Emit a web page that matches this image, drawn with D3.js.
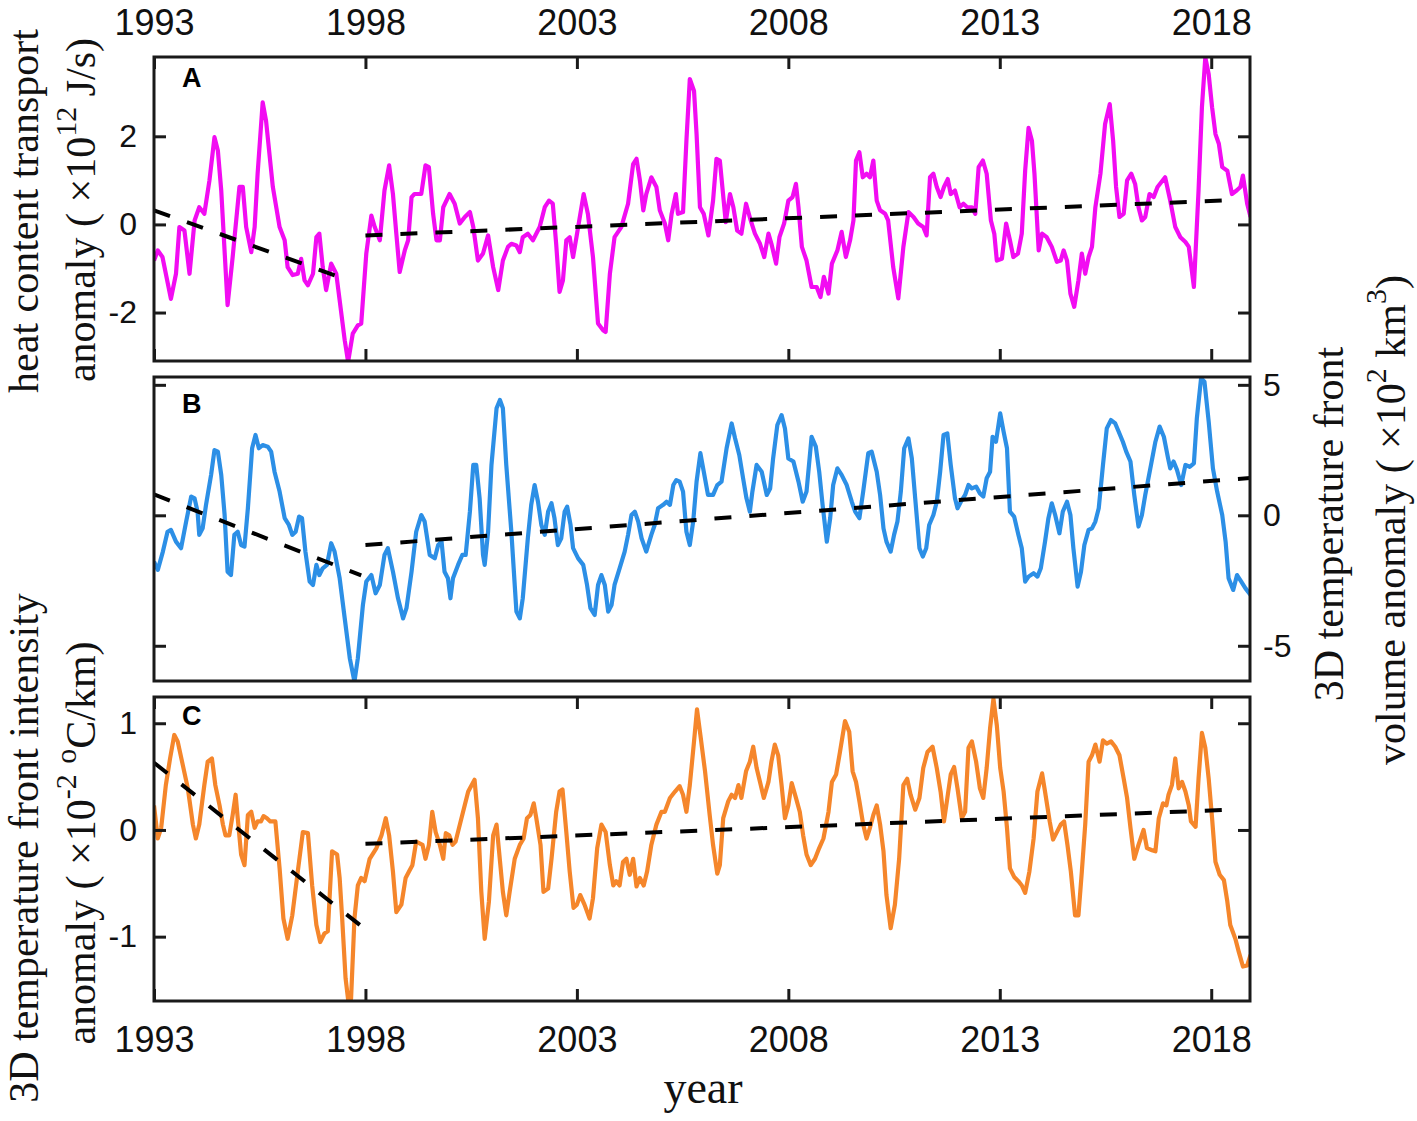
<!DOCTYPE html>
<html>
<head>
<meta charset="utf-8">
<script src="https://cdn.jsdelivr.net/npm/d3@7"></script>
<style>
  body { margin: 0; background: #fff; }
</style>
</head>
<body>
<svg id="chart" width="1417" height="1121"></svg>
<script>
// each pair: [years since Jan 1993, anomaly]
var heatSeries = [[0,-0.82],[0.09,-0.59],[0.20,-0.74],[0.40,-1.69],[0.52,-1.12],[0.60,-0.06],[0.72,-0.14],[0.84,-1.12],[0.96,0.09],[1.07,0.39],[1.19,0.24],[1.31,0.99],[1.43,1.98],[1.51,1.68],[1.59,0.77],[1.74,-1.83],[1.86,-0.74],[2.02,0.85],[2.10,0.85],[2.18,-0.06],[2.30,-0.63],[2.38,-0.06],[2.45,1.15],[2.57,2.77],[2.65,2.35],[2.81,0.85],[2.97,-0.06],[3.09,-0.36],[3.16,-0.97],[3.28,-1.15],[3.40,-1.12],[3.48,-0.78],[3.56,-1.27],[3.64,-1.38],[3.76,-1.12],[3.84,-0.29],[3.91,-0.21],[3.99,-0.97],[4.07,-1.49],[4.19,-0.89],[4.31,-1.12],[4.39,-1.72],[4.51,-2.63],[4.59,-3.12],[4.70,-2.48],[4.82,-2.29],[4.90,-2.25],[5.02,-0.66],[5.14,0.20],[5.22,-0.06],[5.34,-0.36],[5.45,0.77],[5.56,1.34],[5.65,0.69],[5.73,-0.21],[5.81,-1.08],[5.93,-0.59],[6.01,-0.36],[6.09,0.62],[6.16,0.69],[6.32,0.69],[6.42,1.34],[6.50,1.30],[6.60,0.24],[6.68,-0.36],[6.76,-0.36],[6.84,0.39],[6.99,0.69],[7.11,0.47],[7.23,0.02],[7.35,0.17],[7.47,0.28],[7.55,-0.06],[7.66,-0.82],[7.78,-0.66],[7.90,-0.25],[8.02,-0.97],[8.14,-1.49],
  [8.25,-0.82],[8.37,-0.51],[8.45,-0.44],[8.57,-0.48],[8.65,-0.63],[8.72,-0.29],[8.84,-0.21],[8.96,-0.36],[9.12,-0.06],[9.24,0.39],[9.34,0.54],[9.43,0.47],[9.51,-0.44],[9.59,-1.53],[9.67,-1.27],[9.75,-0.36],[9.83,-0.29],[9.91,-0.74],[9.99,-0.29],[10.16,0.69],[10.26,0.24],[10.38,-0.74],[10.50,-2.25],[10.62,-2.40],[10.68,-2.44],[10.78,-1.12],[10.89,-0.29],[11.05,-0.06],[11.21,0.47],[11.33,1.37],[11.41,1.49],[11.49,1.00],[11.57,0.32],[11.64,0.69],[11.76,1.07],[11.88,0.85],[11.96,0.32],[12.08,0.02],[12.16,-0.36],[12.24,0.24],[12.34,0.69],[12.39,0.24],[12.51,0.28],[12.59,1.90],[12.67,3.30],[12.77,3.03],[12.83,2.05],[12.91,0.39],[13.00,0.24],[13.11,-0.25],[13.22,0.54],[13.30,1.49],[13.38,1.45],[13.44,0.85],[13.52,0.05],[13.62,0.69],[13.70,0.39],[13.79,-0.14],[13.89,-0.21],[14.00,0.47],[14.11,0.09],[14.21,-0.21],[14.33,-0.44],[14.43,-0.74],[14.53,-0.21],[14.60,-0.44],[14.71,-0.89],[14.79,-0.29],[14.90,0.02],[15.00,0.54],[15.10,0.62],[15.18,0.92],[15.24,0.39],[15.32,-0.51],[15.43,-0.82],[15.55,-1.42],[15.67,-1.42],[15.76,-1.65],[15.84,-1.19],[15.95,-1.57],[16.03,-0.89],[16.16,-0.59],[16.26,-0.17],[16.36,-0.74],[16.46,-0.36],[16.54,0.09],[16.60,1.45],[16.68,1.64],[16.76,1.07],[16.85,1.15],[16.93,1.07],
  [17.01,1.45],[17.09,0.54],[17.17,0.32],[17.29,0.24],[17.36,0.09],[17.48,-0.97],[17.60,-1.68],[17.72,-0.51],[17.84,0.28],[17.96,0.17],[18.07,0.02],[18.19,-0.06],[18.27,-0.25],[18.35,1.07],[18.43,1.15],[18.51,0.85],[18.60,0.62],[18.68,0.85],[18.77,1.03],[18.84,0.69],[18.94,0.77],[19.05,0.39],[19.14,0.47],[19.23,0.39],[19.34,0.39],[19.42,0.24],[19.50,1.30],[19.60,1.45],[19.69,1.15],[19.79,0.09],[19.87,-0.21],[19.93,-0.82],[20.05,-0.78],[20.15,0.02],[20.24,-0.36],[20.32,-0.74],[20.43,-0.66],[20.52,-0.21],[20.60,1.22],[20.68,2.19],[20.76,1.90],[20.82,1.15],[20.92,-0.59],[21.00,-0.21],[21.11,-0.29],[21.23,-0.51],[21.35,-0.85],[21.44,-0.82],[21.51,-0.59],[21.59,-0.82],[21.67,-1.57],[21.76,-1.87],[21.86,-1.27],[21.94,-0.66],[22.02,-1.12],[22.10,-0.74],[22.18,-0.51],[22.26,0.39],[22.38,1.15],[22.49,2.28],[22.60,2.73],[22.68,1.90],[22.75,0.85],[22.83,0.17],[22.93,0.24],[23.01,1.00],[23.11,1.15],[23.20,0.92],[23.28,0.39],[23.36,0.09],[23.44,0.17],[23.54,0.69],[23.64,0.62],[23.73,0.85],[23.91,1.07],[24.03,0.54],[24.15,-0.06],[24.27,-0.29],[24.39,-0.40],[24.47,-0.51],[24.59,-1.42],[24.70,0.77],[24.78,2.66],[24.86,3.79],[24.94,3.41],[25.02,2.66],[25.10,2.05],[25.18,1.83],[25.26,1.30],[25.38,1.22],[25.49,0.69],[25.60,0.77],[25.69,0.85],[25.75,1.11],[25.85,0.47],[25.93,0.17]];

var volumeSeries = [[0,-1.78],[0.09,-2.09],[0.21,-1.39],[0.32,-0.63],[0.40,-0.56],[0.52,-1.01],[0.64,-1.26],[0.76,-0.24],[0.88,0.72],[0.96,0.65],[1.03,0.14],[1.07,-0.75],[1.15,-0.50],[1.23,0.40],[1.35,1.55],[1.43,2.50],[1.51,2.44],[1.59,1.55],[1.67,0.01],[1.74,-2.16],[1.82,-2.29],[1.90,-0.75],[1.98,-0.63],[2.06,-1.14],[2.14,-1.20],[2.22,0.27],[2.32,2.57],[2.40,3.08],[2.48,2.57],[2.57,2.69],[2.69,2.63],[2.77,2.44],[2.85,1.67],[2.97,0.91],[3.09,-0.11],[3.19,-0.37],[3.27,-0.75],[3.35,-0.63],[3.43,-0.05],[3.50,-0.11],[3.58,-1.39],[3.68,-2.54],[3.76,-2.67],[3.84,-1.90],[3.91,-2.29],[3.99,-2.03],[4.09,-1.90],[4.19,-1.07],[4.27,-1.39],[4.39,-2.41],[4.51,-3.95],[4.63,-5.48],[4.74,-6.37],[4.82,-5.48],[4.94,-3.44],[5.02,-2.54],[5.14,-2.29],[5.24,-2.99],[5.34,-2.67],[5.45,-1.52],[5.53,-1.26],[5.65,-2.16],[5.77,-3.18],[5.89,-3.95],[5.97,-3.56],[6.09,-2.16],[6.20,-0.63],[6.32,0.01],[6.40,-0.24],[6.52,-1.52],[6.64,-1.65],[6.72,-1.14],[6.80,-1.01],[6.87,-2.16],[6.95,-2.41],[7.01,-3.18],[7.07,-2.41],[7.19,-1.90],[7.29,-1.52],[7.37,-1.52],[7.47,0.14],[7.55,1.93],[7.62,1.93],[7.70,0.65],[7.78,-1.52],[7.82,-1.90],[7.90,-0.63],[7.98,1.93],[8.10,4.10],[8.18,4.42],
  [8.25,4.10],[8.33,1.93],[8.45,-0.63],[8.57,-3.69],[8.65,-3.95],[8.72,-3.18],[8.84,-0.88],[8.92,0.40],[9.00,1.16],[9.08,0.52],[9.16,-0.37],[9.24,-0.75],[9.32,0.14],[9.40,0.46],[9.47,-0.11],[9.55,-1.14],[9.63,-0.88],[9.71,0.14],[9.77,0.33],[9.85,-0.37],[9.91,-1.26],[10.03,-1.65],[10.15,-1.90],[10.24,-2.67],[10.32,-3.56],[10.42,-3.82],[10.50,-2.67],[10.58,-2.29],[10.66,-2.67],[10.74,-3.69],[10.82,-3.44],[10.89,-2.67],[11.01,-2.03],[11.13,-1.39],[11.21,-0.75],[11.29,0.01],[11.37,0.14],[11.45,-0.24],[11.53,-0.88],[11.64,-1.39],[11.76,-0.75],[11.84,-0.37],[11.92,0.27],[12.04,0.40],[12.12,0.52],[12.20,0.40],[12.28,1.16],[12.35,1.35],[12.43,1.29],[12.51,0.91],[12.59,-0.63],[12.67,-1.14],[12.75,-0.24],[12.83,1.29],[12.92,2.38],[13.00,1.67],[13.10,0.78],[13.22,0.78],[13.32,1.16],[13.42,1.29],[13.54,2.57],[13.66,3.52],[13.74,2.95],[13.84,2.31],[13.93,1.42],[14.01,0.65],[14.09,0.14],[14.15,0.91],[14.25,1.93],[14.37,1.67],[14.49,0.78],[14.57,1.03],[14.64,2.18],[14.74,3.46],[14.84,3.84],[14.92,3.33],[15.00,2.18],[15.12,2.06],[15.24,1.29],[15.34,0.52],[15.43,0.91],[15.55,3.01],[15.65,2.63],[15.73,1.67],[15.81,0.40],[15.91,-1.01],[15.99,-0.11],[16.06,1.16],[16.16,1.80],[16.26,1.55],[16.38,1.16],[16.50,0.52],[16.58,0.14],[16.68,-0.11],[16.77,0.91],[16.89,2.38],[16.97,2.44],
  [17.09,1.67],[17.17,0.78],[17.25,-0.50],[17.32,-1.01],[17.42,-1.39],[17.50,-0.75],[17.58,-0.24],[17.66,0.91],[17.74,2.57],[17.84,2.95],[17.92,2.18],[18.00,0.65],[18.10,-1.26],[18.18,-1.58],[18.26,-1.26],[18.33,-0.37],[18.43,0.01],[18.51,0.52],[18.59,1.67],[18.67,3.08],[18.76,3.14],[18.84,1.93],[18.94,0.65],[19.00,0.27],[19.08,0.52],[19.18,0.78],[19.26,1.16],[19.34,1.03],[19.44,1.10],[19.53,0.84],[19.61,0.72],[19.69,1.42],[19.77,1.67],[19.83,3.01],[19.91,2.82],[20.01,3.91],[20.09,3.21],[20.17,2.57],[20.24,0.14],[20.34,-0.05],[20.44,-0.75],[20.52,-1.26],[20.60,-2.54],[20.68,-2.35],[20.80,-2.22],[20.89,-2.35],[20.97,-2.03],[21.07,-1.01],[21.15,-0.11],[21.23,0.46],[21.31,0.01],[21.41,-0.69],[21.49,0.14],[21.59,0.52],[21.67,0.01],[21.74,-1.26],[21.84,-2.73],[21.92,-2.16],[22.00,-1.14],[22.10,-0.56],[22.18,-0.50],[22.26,-0.24],[22.34,0.27],[22.44,1.93],[22.53,3.33],[22.63,3.65],[22.73,3.52],[22.81,3.21],[22.91,2.82],[22.99,2.44],[23.09,2.06],[23.18,0.78],[23.28,-0.43],[23.36,0.01],[23.44,0.78],[23.56,1.80],[23.68,2.82],[23.78,3.40],[23.88,3.01],[23.98,2.18],[24.03,1.80],[24.11,2.06],[24.19,1.74],[24.29,1.16],[24.39,1.93],[24.49,1.86],[24.59,1.99],[24.66,3.72],[24.76,5.25],[24.84,5.12],[24.94,3.59],[25.04,1.80],[25.14,0.91],[25.26,0.01],[25.34,-1.01],[25.41,-2.41],[25.52,-2.86],[25.61,-2.29],[25.71,-2.54],[25.81,-2.80],[25.93,-3.05]];

var intensitySeries = [[0,0.23],[0.09,-0.08],[0.17,0.02],[0.28,0.42],[0.38,0.67],[0.48,0.89],[0.56,0.83],[0.68,0.61],[0.80,0.39],[0.92,0.05],[0.99,-0.08],[1.07,0.05],[1.19,0.42],[1.27,0.64],[1.37,0.67],[1.45,0.42],[1.55,0.23],[1.63,0.05],[1.69,-0.05],[1.78,-0.05],[1.86,0.14],[1.93,0.33],[1.98,0.11],[2.06,-0.23],[2.14,-0.33],[2.22,0.14],[2.30,0.17],[2.38,0.02],[2.45,0.08],[2.53,0.08],[2.59,0.13],[2.67,0.11],[2.75,0.08],[2.87,0.08],[2.97,-0.36],[3.06,-0.83],[3.16,-1.02],[3.27,-0.80],[3.40,-0.39],[3.52,-0.02],[3.64,-0.03],[3.74,-0.52],[3.84,-0.89],[3.93,-1.05],[4.03,-0.97],[4.11,-0.95],[4.21,-0.20],[4.33,-0.23],[4.39,-0.45],[4.45,-0.83],[4.53,-1.39],[4.59,-1.59],[4.66,-1.58],[4.74,-0.83],[4.82,-0.52],[4.90,-0.45],[4.98,-0.48],[5.10,-0.27],[5.26,-0.17],[5.38,-0.05],[5.48,0.11],[5.56,-0.05],[5.65,-0.39],[5.73,-0.77],[5.85,-0.70],[5.95,-0.45],[6.03,-0.39],[6.11,-0.33],[6.20,-0.11],[6.35,-0.14],[6.42,-0.27],[6.50,-0.14],[6.58,0.17],[6.66,-0.02],[6.76,-0.14],[6.84,-0.27],[6.90,-0.03],[6.98,-0.05],[7.06,-0.14],[7.13,-0.11],[7.27,0.11],[7.43,0.36],[7.58,0.47],[7.66,0.11],[7.74,-0.58],[7.82,-1.02],[7.92,-0.67],[8.02,-0.05],[8.10,0.05],
  [8.25,-0.58],[8.33,-0.80],[8.41,-0.58],[8.53,-0.27],[8.65,-0.14],[8.74,-0.08],[8.82,0.11],[8.90,0.14],[8.98,0.25],[9.04,0.11],[9.14,-0.14],[9.21,-0.58],[9.32,-0.55],[9.40,-0.27],[9.51,0.17],[9.59,0.36],[9.66,0.38],[9.75,-0.02],[9.83,-0.39],[9.92,-0.73],[10.00,-0.70],[10.08,-0.61],[10.18,-0.70],[10.30,-0.83],[10.38,-0.64],[10.48,-0.17],[10.58,0.05],[10.68,-0.02],[10.78,-0.33],[10.86,-0.52],[10.93,-0.48],[11.01,-0.52],[11.09,-0.30],[11.17,-0.27],[11.25,-0.42],[11.33,-0.27],[11.41,-0.53],[11.49,-0.45],[11.58,-0.52],[11.66,-0.39],[11.76,-0.14],[11.88,0.05],[12.00,0.17],[12.08,0.17],[12.20,0.30],[12.32,0.36],[12.43,0.41],[12.51,0.33],[12.59,0.17],[12.67,0.42],[12.77,0.83],[12.84,1.13],[12.92,0.89],[13.03,0.55],[13.14,0.14],[13.22,-0.14],[13.32,-0.41],[13.38,-0.33],[13.46,0.11],[13.58,0.27],[13.66,0.33],[13.74,0.30],[13.82,0.42],[13.89,0.30],[14.00,0.55],[14.09,0.64],[14.17,0.78],[14.25,0.58],[14.33,0.45],[14.42,0.30],[14.53,0.45],[14.60,0.64],[14.68,0.80],[14.76,0.70],[14.84,0.42],[14.92,0.11],[15.00,0.23],[15.08,0.44],[15.18,0.30],[15.27,0.17],[15.35,-0.05],[15.43,-0.23],[15.53,-0.33],[15.63,-0.27],[15.73,-0.17],[15.83,-0.08],[15.95,0.17],[16.03,0.45],[16.13,0.52],[16.22,0.73],[16.34,1.02],[16.44,0.92],[16.52,0.55],[16.60,0.45],[16.68,0.27],[16.77,0.05],[16.85,-0.08],[16.93,0.02],
  [17.01,0.14],[17.09,0.23],[17.17,0.05],[17.25,-0.20],[17.32,-0.61],[17.42,-0.92],[17.52,-0.70],[17.62,-0.27],[17.72,0.42],[17.81,0.48],[17.89,0.33],[18.00,0.19],[18.10,0.30],[18.19,0.58],[18.29,0.73],[18.41,0.78],[18.51,0.58],[18.60,0.36],[18.68,0.08],[18.76,0.30],[18.84,0.52],[18.92,0.59],[19.00,0.39],[19.10,0.11],[19.18,0.17],[19.26,0.77],[19.34,0.83],[19.44,0.64],[19.53,0.39],[19.61,0.30],[19.69,0.58],[19.77,0.95],[19.85,1.23],[19.93,0.98],[20.01,0.58],[20.09,0.36],[20.17,0.02],[20.24,-0.36],[20.34,-0.44],[20.44,-0.48],[20.52,-0.52],[20.60,-0.59],[20.70,-0.39],[20.80,-0.08],[20.89,0.36],[21.00,0.53],[21.07,0.36],[21.18,0.08],[21.26,-0.09],[21.35,-0.02],[21.44,0.05],[21.52,0.08],[21.60,-0.14],[21.68,-0.39],[21.78,-0.80],[21.86,-0.80],[21.94,-0.39],[22.02,0.05],[22.10,0.64],[22.18,0.70],[22.26,0.80],[22.36,0.64],[22.44,0.84],[22.53,0.81],[22.63,0.83],[22.73,0.78],[22.83,0.70],[22.93,0.48],[23.01,0.30],[23.09,0.02],[23.18,-0.27],[23.28,-0.14],[23.40,0.00],[23.48,-0.17],[23.60,-0.19],[23.68,-0.20],[23.76,0.11],[23.86,0.25],[23.94,0.23],[23.99,0.33],[24.07,0.42],[24.15,0.67],[24.23,0.39],[24.31,0.45],[24.39,0.36],[24.47,0.23],[24.52,0.08],[24.63,0.03],[24.70,0.48],[24.78,0.91],[24.86,0.77],[24.94,0.48],[25.02,0.11],[25.10,-0.30],[25.20,-0.42],[25.30,-0.47],[25.38,-0.67],[25.45,-0.89],[25.57,-1.02],[25.65,-1.14],[25.75,-1.28],[25.85,-1.27],[25.93,-1.17]];

// linear trends, before and after 1998 (same time base)
var heatTrend = [[[0, 0.32], [4.55, -1.25]], [[5.0, -0.25], [25.45, 0.55]]];
var volumeTrend = [[[0, 0.80], [4.9, -2.30]], [[5.0, -1.14], [25.93, 1.43]]];
var intensityTrend = [[[0, 0.63], [4.9, -0.90]], [[5.0, -0.13], [25.45, 0.19]]];

var yearTicks = [1993, 1998, 2003, 2008, 2013, 2018];
var heatTicks = [-2, 0, 2];
var volumeTicks = [-5, 0, 5];
var intensityTicks = [-1, 0, 1];

var startYear = 1993;
var svg = d3.select("#chart");

var x = d3.scaleLinear()
	.domain([startYear, startYear + 311 / 12])
	.range([154, 1250]);

var panels = [
	{ key: "A", data: heatSeries, trend: heatTrend, color: "#f20cf2", top: 57, bottom: 361,
	  domain: [-3.1, 3.8], ticks: heatTicks, labels: "left", xTop: true, xBottom: false, xTicks: true, letterY: 87 },
	{ key: "B", data: volumeSeries, trend: volumeTrend, color: "#2c8fe6", top: 377, bottom: 681,
	  domain: [-6.35, 5.3], ticks: volumeTicks, labels: "right", xTop: false, xBottom: false, xTicks: false, letterY: 413 },
	{ key: "C", data: intensitySeries, trend: intensityTrend, color: "#f5862b", top: 697, bottom: 1001,
	  domain: [-1.603, 1.246], ticks: intensityTicks, labels: "left", xTop: false, xBottom: true, xTicks: true, letterY: 725 }
];

function styleAxis(g, size) {
	g.select(".domain").remove();
	g.attr("font-family", "'Liberation Sans', Arial, sans-serif")
		.attr("font-size", size);
	g.selectAll(".tick line").attr("stroke", "#1a1a1a").attr("stroke-width", 3);
	g.selectAll(".tick text").attr("fill", "#111");
}

panels.forEach(function (p) {
	var y = d3.scaleLinear().domain(p.domain).range([p.bottom, p.top]);

	svg.append("clipPath").attr("id", "clip" + p.key)
		.append("rect")
		.attr("x", x.range()[0]).attr("y", p.top)
		.attr("width", x.range()[1] - x.range()[0]).attr("height", p.bottom - p.top);

	var line = d3.line()
		.x(function (d) { return x(startYear + d[0]); })
		.y(function (d) { return y(d[1]); });

	var plot = svg.append("g").attr("clip-path", "url(#clip" + p.key + ")");

	plot.append("path")
		.datum(p.data)
		.attr("fill", "none")
		.attr("stroke", p.color)
		.attr("stroke-width", 4.2)
		.attr("stroke-linejoin", "round")
		.attr("d", line);

	plot.selectAll(".trend")
		.data(p.trend)
		.enter().append("path")
		.attr("class", "trend")
		.attr("fill", "none")
		.attr("stroke", "#000")
		.attr("stroke-width", 4)
		.attr("stroke-dasharray", "17,18")
		.attr("d", line);

	// x ticks point inward, labels only on the outer edges
	if (p.xTicks) {
		svg.append("g")
			.attr("transform", "translate(0," + p.top + ")")
			.call(d3.axisTop(x).tickValues(yearTicks).tickSize(-12).tickPadding(22)
				.tickFormat(function (d) { return p.xTop ? String(d) : ""; }))
			.call(styleAxis, 36);
		svg.append("g")
			.attr("transform", "translate(0," + p.bottom + ")")
			.call(d3.axisBottom(x).tickValues(yearTicks).tickSize(-12).tickPadding(25)
				.tickFormat(function (d) { return p.xBottom ? String(d) : ""; }))
			.call(styleAxis, 36);
	}

	svg.append("g")
		.attr("transform", "translate(" + x.range()[0] + ",0)")
		.call(d3.axisLeft(y).tickValues(p.ticks).tickSize(-12).tickPadding(17)
			.tickFormat(function (d) { return p.labels == "left" ? String(d) : ""; }))
		.call(styleAxis, 32);
	svg.append("g")
		.attr("transform", "translate(" + x.range()[1] + ",0)")
		.call(d3.axisRight(y).tickValues(p.ticks).tickSize(-12).tickPadding(13)
			.tickFormat(function (d) { return p.labels == "right" ? String(d) : ""; }))
		.call(styleAxis, 32);

	svg.append("rect")
		.attr("x", x.range()[0]).attr("y", p.top)
		.attr("width", x.range()[1] - x.range()[0]).attr("height", p.bottom - p.top)
		.attr("fill", "none")
		.attr("stroke", "#1a1a1a")
		.attr("stroke-width", 3);

	svg.append("text")
		.attr("x", 182).attr("y", p.letterY)
		.attr("font-family", "'Liberation Sans', Arial, sans-serif")
		.attr("font-weight", "bold")
		.attr("font-size", 27)
		.text(p.key);
});

// rotated axis titles; parts flagged true are superscripts
function title(px, py, parts) {
	var t = svg.append("text")
		.attr("transform", "translate(" + px + "," + py + ") rotate(-90)")
		.attr("text-anchor", "middle")
		.attr("font-family", "'Liberation Serif', 'Times New Roman', serif")
		.attr("font-size", 42)
		.attr("fill", "#111");
	var shift = 0;
	parts.forEach(function (part) {
		var up = part[1] ? -19 : 0;
		t.append("tspan")
			.attr("dy", up - shift)
			.attr("font-size", part[1] ? 30 : 42)
			.text(part[0]);
		shift = up;
	});
}

title(38, 211, [["heat content transport", false]]);
title(95, 210, [["anomaly ( \u00d710", false], ["12", true], [" J/s)", false]]);
title(1343, 524, [["3D temperature front", false]]);
title(1405, 520, [["volume anomaly ( \u00d710", false], ["2", true], [" km", false], ["3", true], [")", false]]);
title(38, 848, [["3D temperature front intensity", false]]);
title(95, 843, [["anomaly ( \u00d710", false], ["-2", true], [" ", false], ["o", true], ["C/km)", false]]);

svg.append("text")
	.attr("x", 703).attr("y", 1103)
	.attr("text-anchor", "middle")
	.attr("font-family", "'Liberation Serif', 'Times New Roman', serif")
	.attr("font-size", 46)
	.attr("fill", "#111")
	.text("year");
</script>
</body>
</html>
